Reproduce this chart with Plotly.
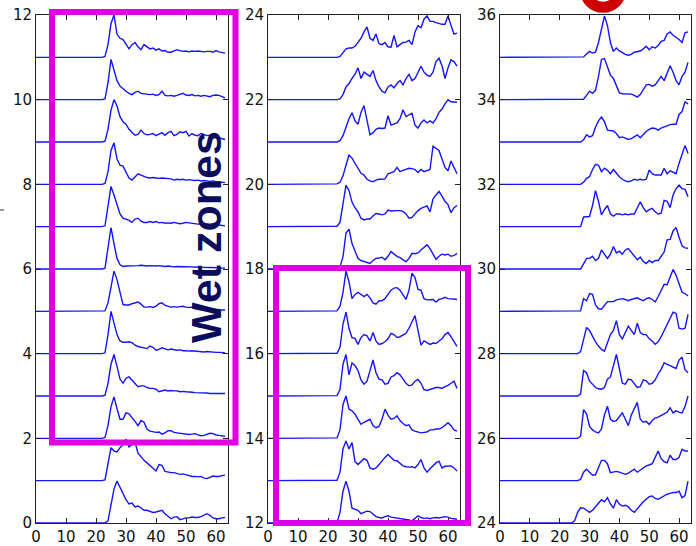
import plotly.graph_objects as go

# shared sample positions (time index)
x_pos = [0, 22, 23, 24, 25, 26, 27, 28, 29, 30, 31, 32, 33, 34, 35, 36, 37, 38, 39, 40, 41, 42,
         43, 44, 45, 46, 47, 48, 49, 50, 51, 52, 53, 54, 55, 56, 57, 58, 59, 60, 61, 62, 63]

# heights above each trace's baseline (baseline = trace number)
tr00 = [0, 0, 0, 0.05, 0.4, 0.8, 0.99, 0.85, 0.7, 0.55, 0.45, 0.47, 0.38, 0.4, 0.36, 0.3, 0.3, 0.28, 0.25, 0.26, 0.28, 0.3, 0.22, 0.15, 0.1, 0.14, 0.15, 0.08, 0.1, 0.12, 0.12, 0.14, 0.13, 0.13, 0.15, 0.18, 0.22, 0.18, 0.12, 0.1, 0.1, 0.12, 0.13]
tr01 = [0, 0, 0.02, 0.4, 0.78, 0.7, 0.68, 0.78, 0.85, 0.98, 0.8, 0.85, 0.92, 0.65, 0.55, 0.48, 0.42, 0.35, 0.28, 0.23, 0.38, 0.36, 0.22, 0.2, 0.19, 0.19, 0.17, 0.15, 0.16, 0.14, 0.12, 0.1, 0.1, 0.09, 0.1, 0.06, 0.05, 0.08, 0.11, 0.1, 0.1, 0.12, 0.13]
tr02 = [0, 0, 0.02, 0.3, 0.75, 0.98, 0.7, 0.45, 0.45, 0.6, 0.58, 0.5, 0.4, 0.3, 0.42, 0.38, 0.22, 0.17, 0.16, 0.14, 0.15, 0.1, 0.13, 0.18, 0.18, 0.14, 0.13, 0.12, 0.11, 0.1, 0.09, 0.1, 0.11, 0.08, 0.06, 0.07, 0.09, 0.12, 0.11, 0.08, 0.07, 0.06, 0.05]
tr03 = [0, 0, 0.02, 0.3, 0.75, 0.98, 0.7, 0.4, 0.3, 0.42, 0.45, 0.38, 0.3, 0.22, 0.24, 0.24, 0.2, 0.18, 0.18, 0.16, 0.1, 0.12, 0.14, 0.12, 0.13, 0.12, 0.12, 0.1, 0.11, 0.1, 0.1, 0.09, 0.08, 0.08, 0.08, 0.07, 0.07, 0.06, 0.06, 0.07, 0.06, 0.06, 0.06]
tr04 = [0, 0, 0.02, 0.45, 1.0, 0.75, 0.45, 0.3, 0.27, 0.27, 0.28, 0.26, 0.2, 0.17, 0.15, 0.13, 0.12, 0.18, 0.15, 0.08, 0.1, 0.14, 0.12, 0.09, 0.11, 0.09, 0.08, 0.09, 0.07, 0.07, 0.06, 0.07, 0.06, 0.05, 0.05, 0.04, 0.05, 0.04, 0.03, 0.03, 0.03, 0.03, 0.02]
tr05 = [0, 0, 0.01, 0.2, 0.6, 0.95, 0.75, 0.45, 0.16, 0.15, 0.15, 0.18, 0.2, 0.22, 0.17, 0.1, 0.1, 0.11, 0.09, 0.12, 0.18, 0.2, 0.14, 0.12, 0.1, 0.11, 0.1, 0.11, 0.12, 0.1, 0.09, 0.1, 0.08, 0.08, 0.07, 0.06, 0.07, 0.06, 0.05, 0.04, 0.04, 0.03, 0.03]
tr06 = [0, 0, 0.02, 0.45, 0.98, 0.6, 0.25, 0.1, 0.06, 0.07, 0.07, 0.08, 0.07, 0.08, 0.09, 0.08, 0.07, 0.08, 0.07, 0.07, 0.08, 0.07, 0.06, 0.07, 0.06, 0.05, 0.06, 0.06, 0.05, 0.06, 0.05, 0.05, 0.04, 0.05, 0.04, 0.04, 0.03, 0.04, 0.03, 0.03, 0.03, 0.02, 0.02]
tr07 = [0, 0, 0.02, 0.45, 0.95, 0.75, 0.5, 0.3, 0.2, 0.17, 0.15, 0.1, 0.18, 0.2, 0.13, 0.1, 0.1, 0.12, 0.1, 0.12, 0.09, 0.1, 0.08, 0.09, 0.08, 0.1, 0.08, 0.07, 0.08, 0.1, 0.09, 0.08, 0.07, 0.06, 0.07, 0.06, 0.05, 0.05, 0.06, 0.04, 0.04, 0.03, 0.02]
tr08 = [0, 0, 0.02, 0.3, 0.8, 0.98, 0.6, 0.45, 0.43, 0.3, 0.15, 0.1, 0.18, 0.25, 0.22, 0.18, 0.16, 0.15, 0.16, 0.15, 0.14, 0.15, 0.14, 0.14, 0.13, 0.1, 0.12, 0.11, 0.12, 0.1, 0.11, 0.1, 0.09, 0.1, 0.08, 0.09, 0.08, 0.07, 0.08, 0.06, 0.06, 0.05, 0.04]
tr09 = [0, 0, 0.02, 0.3, 0.75, 1.0, 0.85, 0.6, 0.48, 0.42, 0.3, 0.22, 0.16, 0.18, 0.28, 0.2, 0.17, 0.18, 0.2, 0.15, 0.18, 0.22, 0.16, 0.22, 0.25, 0.15, 0.18, 0.24, 0.22, 0.25, 0.14, 0.2, 0.16, 0.15, 0.2, 0.17, 0.15, 0.16, 0.14, 0.12, 0.1, 0.08, 0.06]
tr10 = [0, 0, 0.02, 0.4, 0.95, 0.7, 0.45, 0.32, 0.25, 0.2, 0.15, 0.12, 0.17, 0.2, 0.15, 0.14, 0.13, 0.12, 0.13, 0.1, 0.12, 0.2, 0.1, 0.09, 0.1, 0.08, 0.1, 0.12, 0.15, 0.11, 0.1, 0.12, 0.09, 0.1, 0.08, 0.1, 0.09, 0.07, 0.1, 0.11, 0.1, 0.07, 0.04]
tr11 = [0, 0, 0.02, 0.3, 0.8, 1.0, 0.55, 0.45, 0.42, 0.3, 0.2, 0.3, 0.35, 0.25, 0.18, 0.3, 0.25, 0.2, 0.22, 0.17, 0.2, 0.15, 0.16, 0.12, 0.12, 0.15, 0.18, 0.16, 0.14, 0.15, 0.13, 0.15, 0.14, 0.15, 0.14, 0.13, 0.14, 0.14, 0.12, 0.16, 0.13, 0.12, 0.1]

tr12 = [0, 0, 0.01, 0.25, 0.75, 0.99, 0.75, 0.35, 0.32, 0.3, 0.22, 0.26, 0.28, 0.27, 0.2, 0.15, 0.13, 0.12, 0.15, 0.17, 0.14, 0.13, 0.12, 0.11, 0.1, 0.08, 0.07, 0.05, 0.1, 0.17, 0.13, 0.11, 0.12, 0.1, 0.12, 0.13, 0.12, 0.13, 0.15, 0.14, 0.11, 0.1, 0.09]
tr13 = [0, 0, 0.01, 0.2, 0.75, 0.94, 0.75, 0.9, 0.45, 0.38, 0.45, 0.52, 0.48, 0.3, 0.27, 0.3, 0.38, 0.48, 0.55, 0.62, 0.55, 0.48, 0.47, 0.42, 0.35, 0.33, 0.32, 0.33, 0.3, 0.38, 0.5, 0.3, 0.2, 0.28, 0.35, 0.42, 0.46, 0.3, 0.34, 0.35, 0.35, 0.3, 0.23]
tr14 = [0, 0, 0.01, 0.2, 0.8, 1.0, 0.69, 0.65, 0.57, 0.45, 0.33, 0.38, 0.42, 0.45, 0.3, 0.25, 0.28, 0.45, 0.69, 0.55, 0.45, 0.47, 0.53, 0.42, 0.35, 0.3, 0.32, 0.2, 0.17, 0.15, 0.13, 0.14, 0.15, 0.2, 0.2, 0.22, 0.22, 0.25, 0.3, 0.37, 0.3, 0.2, 0.17]
tr15 = [0, 0, 0.01, 0.15, 0.75, 0.98, 0.5, 0.78, 0.72, 0.6, 0.38, 0.28, 0.35, 0.6, 0.85, 0.55, 0.4, 0.38, 0.28, 0.3, 0.45, 0.48, 0.55, 0.5, 0.4, 0.3, 0.24, 0.26, 0.35, 0.39, 0.3, 0.15, 0.13, 0.15, 0.17, 0.2, 0.2, 0.18, 0.22, 0.25, 0.3, 0.35, 0.18]
tr16 = [0, 0, 0.01, 0.15, 0.7, 0.98, 0.6, 0.38, 0.36, 0.22, 0.38, 0.45, 0.42, 0.3, 0.5, 0.3, 0.22, 0.24, 0.28, 0.35, 0.48, 0.45, 0.38, 0.4, 0.45, 0.48, 0.6, 0.75, 0.9, 0.55, 0.2, 0.3, 0.25, 0.22, 0.25, 0.24, 0.3, 0.35, 0.45, 0.5, 0.4, 0.3, 0.17]
tr17 = [0, 0, 0.01, 0.12, 0.45, 0.95, 0.7, 0.3, 0.4, 0.45, 0.4, 0.35, 0.4, 0.32, 0.2, 0.17, 0.25, 0.25, 0.3, 0.4, 0.5, 0.55, 0.56, 0.5, 0.4, 0.28, 0.5, 0.9, 0.8, 0.52, 0.5, 0.3, 0.27, 0.27, 0.28, 0.22, 0.28, 0.3, 0.33, 0.3, 0.3, 0.29, 0.28]
tr18 = [0, 0, 0, 0.05, 0.29, 0.85, 0.94, 0.6, 0.4, 0.25, 0.2, 0.18, 0.15, 0.13, 0.2, 0.25, 0.26, 0.28, 0.22, 0.3, 0.41, 0.35, 0.3, 0.27, 0.22, 0.17, 0.25, 0.37, 0.36, 0.38, 0.45, 0.5, 0.57, 0.48, 0.35, 0.23, 0.3, 0.35, 0.33, 0.35, 0.3, 0.32, 0.37]
tr19 = [0, 0, 0.01, 0.1, 0.5, 0.98, 0.85, 0.58, 0.45, 0.35, 0.2, 0.16, 0.18, 0.18, 0.25, 0.31, 0.3, 0.28, 0.3, 0.39, 0.37, 0.38, 0.38, 0.38, 0.36, 0.3, 0.2, 0.22, 0.3, 0.38, 0.43, 0.47, 0.49, 0.35, 0.65, 0.75, 0.83, 0.72, 0.6, 0.52, 0.33, 0.45, 0.5]
tr20 = [0, 0, 0.01, 0.05, 0.2, 0.45, 0.69, 0.62, 0.5, 0.38, 0.26, 0.22, 0.12, 0.08, 0.06, 0.1, 0.12, 0.12, 0.13, 0.25, 0.28, 0.3, 0.4, 0.3, 0.33, 0.36, 0.38, 0.37, 0.35, 0.28, 0.35, 0.3, 0.32, 0.35, 0.9, 0.85, 0.8, 0.6, 0.4, 0.32, 0.55, 0.4, 0.25]
tr21 = [0, 0, 0, 0.03, 0.15, 0.35, 0.55, 0.69, 0.5, 0.42, 0.7, 0.86, 0.5, 0.17, 0.22, 0.3, 0.33, 0.32, 0.33, 0.62, 0.4, 0.42, 0.45, 0.55, 0.76, 0.6, 0.65, 0.68, 0.4, 0.33, 0.45, 0.52, 0.45, 0.5, 0.45, 0.55, 0.7, 0.78, 0.9, 1.0, 0.95, 0.94, 0.94]
tr22 = [0, 0, 0, 0.02, 0.12, 0.3, 0.38, 0.5, 0.6, 0.75, 0.5, 0.65, 0.6, 0.55, 0.69, 0.45, 0.3, 0.2, 0.16, 0.3, 0.35, 0.28, 0.38, 0.45, 0.35, 0.5, 0.6, 0.45, 0.5, 0.65, 0.79, 0.65, 0.58, 0.55, 0.65, 0.9, 0.98, 0.8, 0.5, 0.75, 0.94, 0.9, 0.79]
tr23 = [0, 0, 0, 0.02, 0.1, 0.2, 0.22, 0.22, 0.26, 0.35, 0.45, 0.6, 0.72, 0.45, 0.4, 0.55, 0.32, 0.3, 0.35, 0.25, 0.24, 0.52, 0.25, 0.3, 0.35, 0.36, 0.4, 0.3, 0.6, 0.75, 0.7, 0.9, 0.98, 0.85, 0.85, 0.82, 0.8, 0.78, 0.78, 0.98, 0.75, 0.55, 0.57]

tr24 = [0, 0, 0, 0, 0.05, 0.25, 0.36, 0.35, 0.3, 0.25, 0.3, 0.38, 0.45, 0.55, 0.5, 0.6, 0.45, 0.35, 0.55, 0.45, 0.4, 0.42, 0.38, 0.3, 0.25, 0.35, 0.42, 0.5, 0.56, 0.62, 0.64, 0.58, 0.56, 0.6, 0.66, 0.68, 0.7, 0.72, 0.72, 0.75, 0.6, 0.65, 0.99]
tr25 = [0, 0, 0, 0, 0, 0, 0.03, 0.2, 0.27, 0.2, 0.13, 0.14, 0.3, 0.48, 0.48, 0.4, 0.19, 0.2, 0.22, 0.2, 0.18, 0.15, 0.18, 0.22, 0.27, 0.2, 0.25, 0.3, 0.35, 0.37, 0.4, 0.55, 0.7, 0.52, 0.45, 0.42, 0.6, 0.5, 0.5, 0.55, 0.74, 0.7, 0.7]
tr26 = [0, 0, 0, 0, 0, 0, 0.05, 0.68, 0.58, 0.28, 0.2, 0.15, 0.13, 0.22, 0.55, 0.76, 0.45, 0.4, 0.42, 0.5, 0.6, 0.45, 0.3, 0.55, 0.7, 0.85, 0.45, 0.38, 0.4, 0.33, 0.42, 0.48, 0.5, 0.55, 0.58, 0.62, 0.72, 0.6, 0.65, 0.62, 0.6, 0.75, 1.0]
tr27 = [0, 0, 0, 0, 0, 0, 0.05, 0.6, 0.55, 0.35, 0.28, 0.2, 0.17, 0.16, 0.2, 0.4, 0.45, 0.7, 0.98, 0.65, 0.3, 0.28, 0.4, 0.38, 0.28, 0.2, 0.22, 0.38, 0.36, 0.28, 0.3, 0.38, 0.52, 0.63, 0.78, 0.75, 0.72, 0.68, 0.65, 0.85, 0.92, 0.62, 0.55]
tr28 = [0, 0, 0, 0, 0, 0, 0.05, 0.35, 0.62, 0.55, 0.4, 0.28, 0.18, 0.1, 0.06, 0.25, 0.45, 0.55, 0.78, 0.45, 0.35, 0.5, 0.65, 0.55, 0.45, 0.72, 0.5, 0.45, 0.45, 0.35, 0.3, 0.22, 0.28, 0.4, 0.55, 0.68, 0.85, 0.98, 0.95, 0.6, 0.58, 0.6, 0.93]
tr29 = [0, 0, 0, 0, 0, 0, 0.01, 0.3, 0.25, 0.42, 0.4, 0.15, 0.06, 0.05, 0.15, 0.23, 0.23, 0.23, 0.27, 0.28, 0.3, 0.28, 0.25, 0.28, 0.3, 0.32, 0.28, 0.25, 0.3, 0.32, 0.28, 0.22, 0.35, 0.5, 0.64, 0.63, 0.8, 0.99, 0.85, 0.65, 0.45, 0.42, 0.36]
tr30 = [0, 0, 0, 0, 0, 0, 0, 0.12, 0.25, 0.25, 0.3, 0.2, 0.25, 0.45, 0.35, 0.25, 0.35, 0.53, 0.38, 0.42, 0.35, 0.45, 0.48, 0.4, 0.3, 0.22, 0.28, 0.18, 0.13, 0.2, 0.15, 0.2, 0.2, 0.3, 0.4, 0.69, 0.7, 0.9, 0.98, 0.75, 0.55, 0.5, 0.49]
tr31 = [0, 0, 0, 0, 0, 0, 0, 0.23, 0.24, 0.24, 0.5, 0.85, 0.6, 0.28, 0.4, 0.5, 0.3, 0.25, 0.3, 0.3, 0.28, 0.3, 0.28, 0.3, 0.3, 0.45, 0.59, 0.45, 0.35, 0.4, 0.43, 0.35, 0.3, 0.32, 0.62, 0.6, 0.45, 0.75, 0.9, 0.98, 0.9, 0.88, 0.71]
tr32 = [0, 0, 0, 0, 0, 0, 0, 0.05, 0.14, 0.18, 0.35, 0.47, 0.45, 0.3, 0.38, 0.33, 0.25, 0.35, 0.25, 0.18, 0.12, 0.08, 0.06, 0.08, 0.12, 0.1, 0.12, 0.1, 0.12, 0.34, 0.25, 0.22, 0.22, 0.22, 0.38, 0.25, 0.32, 0.28, 0.25, 0.5, 0.7, 0.92, 0.73]
tr33 = [0, 0, 0, 0, 0, 0, 0, 0.05, 0.17, 0.12, 0.15, 0.35, 0.5, 0.59, 0.48, 0.28, 0.27, 0.26, 0.2, 0.1, 0.12, 0.08, 0.06, 0.08, 0.12, 0.17, 0.1, 0.18, 0.25, 0.3, 0.33, 0.32, 0.28, 0.33, 0.36, 0.38, 0.41, 0.42, 0.42, 0.65, 0.72, 0.95, 0.9]
tr34 = [0, 0, 0, 0, 0, 0, 0, 0.01, 0.1, 0.2, 0.15, 0.22, 0.55, 0.95, 0.97, 0.78, 0.58, 0.5, 0.35, 0.16, 0.14, 0.14, 0.13, 0.13, 0.1, 0.06, 0.12, 0.25, 0.35, 0.36, 0.32, 0.35, 0.45, 0.55, 0.45, 0.65, 0.8, 0.65, 0.45, 0.35, 0.55, 0.65, 0.88]
tr35 = [0, 0, 0, 0, 0, 0, 0, 0.01, 0.08, 0.14, 0.1, 0.12, 0.35, 0.69, 0.98, 0.75, 0.35, 0.14, 0.22, 0.15, 0.1, 0.07, 0.05, 0.07, 0.12, 0.13, 0.15, 0.2, 0.26, 0.18, 0.25, 0.22, 0.28, 0.38, 0.4, 0.55, 0.6, 0.52, 0.48, 0.42, 0.35, 0.58, 0.6]

panel_left = [tr00, tr01, tr02, tr03, tr04, tr05, tr06, tr07, tr08, tr09, tr10, tr11]
panel_mid = [tr12, tr13, tr14, tr15, tr16, tr17, tr18, tr19, tr20, tr21, tr22, tr23]
panel_right = [tr24, tr25, tr26, tr27, tr28, tr29, tr30, tr31, tr32, tr33, tr34, tr35]

x_ticks = [0, 10, 20, 30, 40, 50, 60]

fig = go.Figure()
for p, (panel, first) in enumerate([(panel_left, 0), (panel_mid, 12), (panel_right, 24)]):
    xa = "x" if p == 0 else f"x{p + 1}"
    ya = "y" if p == 0 else f"y{p + 1}"
    for k, heights in enumerate(panel):
        base = first + k
        fig.add_trace(go.Scatter(
            x=x_pos, y=[base + h for h in heights], mode="lines",
            line=dict(color="#1414ff", width=1.4), xaxis=xa, yaxis=ya,
            showlegend=False, hoverinfo="skip"))

W, H = 696, 546
ml, mr, mt, mb = 36, 5, 15, 23
pw = W - ml - mr
ph = H - mt - mb


def px(xp):
    return (xp - ml) / pw


def py(yp):
    return (H - mb - yp) / ph


domains = [[0, px(228)], [px(268), px(460)], [px(500), 1.0]]
tickfont = dict(family="DejaVu Sans", size=15, color="#111")
axis_common = dict(showline=True, linecolor="#222", linewidth=1, mirror="ticks",
                   ticks="inside", ticklen=5, tickcolor="#222", showgrid=False,
                   zeroline=False, tickfont=tickfont, automargin=False)

layout = dict(width=W, height=H, margin=dict(l=ml, r=mr, t=mt, b=mb, autoexpand=False),
              plot_bgcolor="white", paper_bgcolor="white", showlegend=False)
for p in range(3):
    xkey = "xaxis" if p == 0 else f"xaxis{p + 1}"
    ykey = "yaxis" if p == 0 else f"yaxis{p + 1}"
    xa = "x" if p == 0 else f"x{p + 1}"
    layout[xkey] = dict(domain=domains[p], range=[0, 64], tickvals=x_ticks,
                        anchor="y" if p == 0 else f"y{p + 1}", **axis_common)
    layout[ykey] = dict(domain=[0, 1], range=[12 * p, 12 * p + 12], dtick=2,
                        anchor=xa, **axis_common)
fig.update_layout(**layout)

magenta = "#e000e0"
fig.add_shape(type="rect", xref="paper", yref="paper",
              x0=px(52), x1=px(235.5), y0=py(442.5), y1=py(12),
              line=dict(color=magenta, width=6), layer="above")
fig.add_shape(type="rect", xref="paper", yref="paper",
              x0=px(276), x1=px(468), y0=py(523), y1=py(268),
              line=dict(color=magenta, width=6), layer="above")
# red ring cut off at top
r = 17.8
fig.add_shape(type="circle", xref="paper", yref="paper",
              x0=px(603 - r), x1=px(603 + r), y0=py(-10.5 + r), y1=py(-10.5 - r),
              line=dict(color="#cc0000", width=11), layer="above")
# small mark at the left edge
fig.add_shape(type="line", xref="paper", yref="paper",
              x0=px(0), x1=px(4), y0=py(210), y1=py(210),
              line=dict(color="#333", width=1))

fig.add_annotation(text="<b>Wet zones</b>", xref="paper", yref="paper",
                   x=px(180), y=py(237), textangle=-90, showarrow=False,
                   font=dict(family="Liberation Sans", size=43, color="#0c0c5c"))

fig.write_html("out.html")
